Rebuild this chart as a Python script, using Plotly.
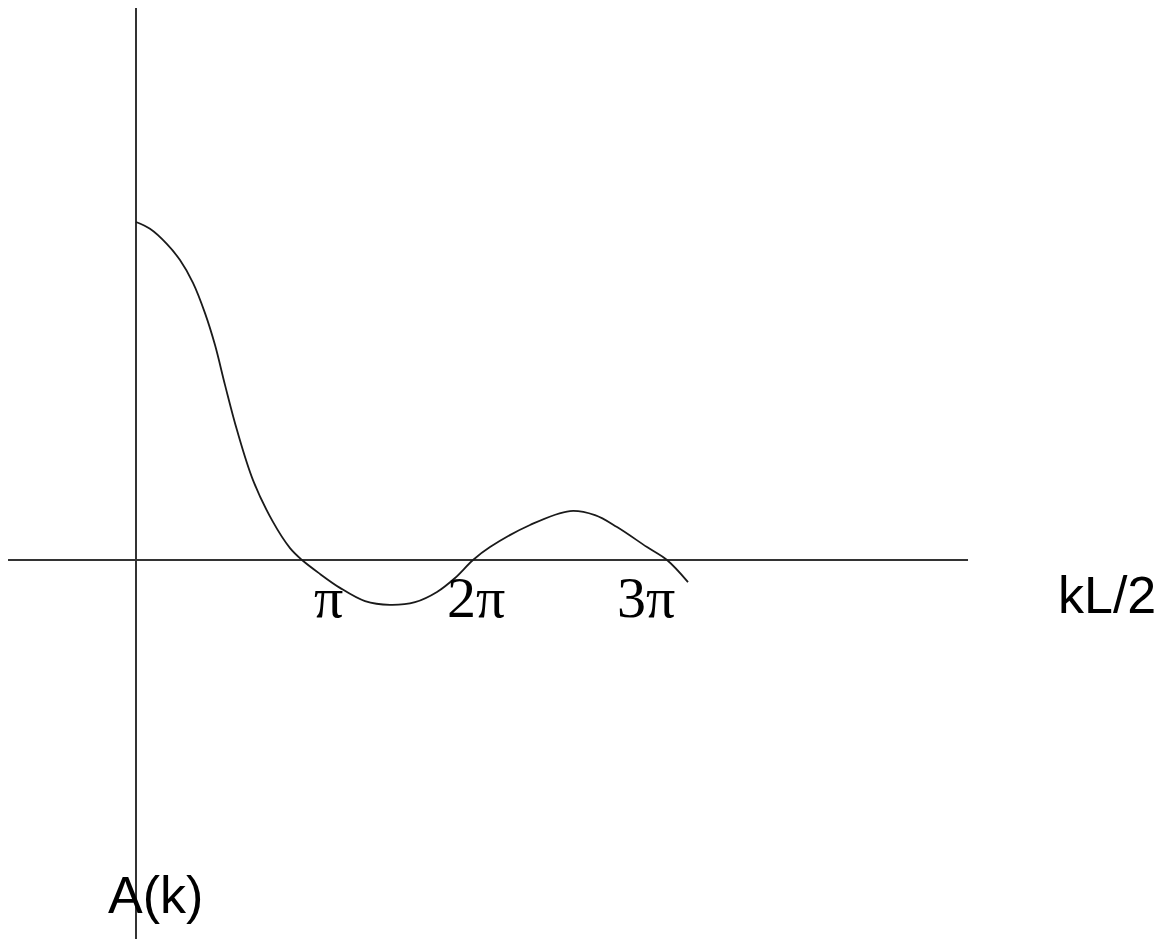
import plotly.graph_objects as go

# Curve A(k) versus kL/2 (hand-sketched shape)
kl_half = [0.000, 0.233, 0.517, 0.733, 0.950, 1.150, 1.317, 1.483, 1.683, 1.950,
           2.283, 2.567, 2.767, 3.067, 3.400, 3.817, 4.233, 4.650, 5.017, 5.317,
           5.617, 5.900, 6.567, 7.233, 7.650, 8.017, 8.517, 8.850, 9.200]
amplitude = [0.994, 0.974, 0.929, 0.882, 0.815, 0.726, 0.632, 0.515, 0.382, 0.235,
             0.112, 0.035, 0.000, -0.041, -0.082, -0.121, -0.132, -0.124, -0.094, -0.053,
             0.000, 0.038, 0.103, 0.144, 0.132, 0.097, 0.038, 0.000, -0.065]

# Tick labels placed along the horizontal axis
tick_labels = ["π", "2π", "3π"]
tick_positions = [3.2, 5.667, 8.5]

# Axis extents
X_RANGE = [-2.1333, 17.1833]
Y_RANGE = [-1.1147, 1.6235]
H_AXIS = [-2.133, 13.867]
V_AXIS = [-1.12, 1.63]

fig = go.Figure()

fig.add_trace(go.Scatter(
    x=kl_half, y=amplitude, mode="lines",
    line=dict(color="#1a1a1a", width=1.8, shape="spline", smoothing=1.0),
    hoverinfo="skip", showlegend=False,
))

fig.add_shape(type="line", x0=H_AXIS[0], x1=H_AXIS[1], y0=0, y1=0,
              line=dict(color="#333333", width=2), layer="below")
fig.add_shape(type="line", x0=0, x1=0, y0=V_AXIS[0], y1=V_AXIS[1],
              line=dict(color="#333333", width=2), layer="below")

for lbl, xp in zip(tick_labels, tick_positions):
    fig.add_annotation(x=xp, y=-0.109, text=lbl, showarrow=False,
                       xanchor="center", yanchor="middle",
                       font=dict(family="Liberation Serif", size=58, color="black"))

fig.add_annotation(x=16.183, y=-0.103, text="kL/2", showarrow=False,
                   xanchor="center", yanchor="middle",
                   font=dict(family="Liberation Sans", size=52, color="black"))
fig.add_annotation(x=0.317, y=-0.985, text="A(k)", showarrow=False,
                   xanchor="center", yanchor="middle",
                   font=dict(family="Liberation Sans", size=52, color="black"))

fig.update_xaxes(range=X_RANGE, visible=False, fixedrange=True)
fig.update_yaxes(range=Y_RANGE, visible=False, fixedrange=True)
fig.update_layout(
    width=1159, height=931,
    margin=dict(l=0, r=0, t=0, b=0),
    paper_bgcolor="white", plot_bgcolor="white",
)

fig.write_html("out.html")
